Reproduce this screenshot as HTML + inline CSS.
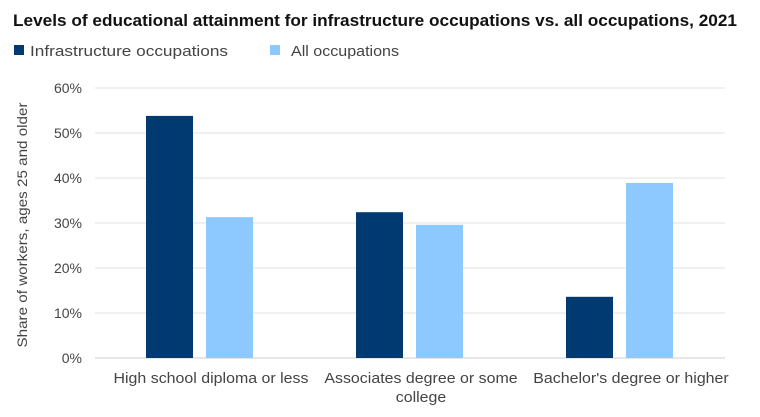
<!DOCTYPE html>
<html><head><meta charset="utf-8"><style>
body{margin:0;background:#fff;font-family:"Liberation Sans",sans-serif;}
svg text{font-family:"Liberation Sans",sans-serif;}
</style></head><body>
<svg id="chart" width="760" height="412">
<text x="13" y="26" font-size="16.5" font-weight="bold" fill="#111" textLength="724" lengthAdjust="spacingAndGlyphs">Levels of educational attainment for infrastructure occupations  vs. all occupations, 2021</text>
<g>
<rect x="14" y="45" width="10" height="10" fill="#003A70"/>
<text x="30" y="56" font-size="15" fill="#444" textLength="198" lengthAdjust="spacingAndGlyphs">Infrastructure occupations</text>
<rect x="270" y="45" width="10" height="10" fill="#8DC8FF"/>
<text x="291" y="56" font-size="15" fill="#444" textLength="108" lengthAdjust="spacingAndGlyphs">All occupations</text>
</g>
<text transform="translate(27,225) rotate(-90)" text-anchor="middle" font-size="14" fill="#444" textLength="245" lengthAdjust="spacingAndGlyphs">Share of workers, ages 25 and older</text>
<g id="grid"></g><g id="bars"></g><g id="labels"></g>
</svg>
<script>
const categories=["High school diploma or less","Associates degree or some|college","Bachelor's degree or higher"];
const infra=[53.8,32.4,13.6];
const allOcc=[31.3,29.6,38.9];
const ticks=[0,10,20,30,40,50,60];
const ns="http://www.w3.org/2000/svg";
const x0=95,x1=725,y0=358,yTop=88,maxV=60;
const y=v=>y0-(v/maxV)*(y0-yTop);
const bw=(x1-x0)/categories.length;
const g=document.getElementById('grid'),b=document.getElementById('bars'),l=document.getElementById('labels');
function mk(tag,attrs,parent){const e=document.createElementNS(ns,tag);for(const k in attrs)e.setAttribute(k,attrs[k]);parent.appendChild(e);return e;}
ticks.forEach(t=>{
 const ln=mk('line',{x1:x0,x2:x1,y1:y(t),y2:y(t),stroke:t===0?'#ccc':'#e0e0e0','stroke-width':1},g);
 
 
 const tx=mk('text',{x:82,y:y(t)+5,'text-anchor':'end','font-size':14,fill:'#444'},g);
 tx.textContent=t+'%';
 
 
});
categories.forEach((c,i)=>{
 const cx=x0+bw*(i+0.5);
 const r1=mk('rect',{x:cx-54,y:y(infra[i]),width:47,height:y0-y(infra[i]),fill:'#003A70'},b);
 
 
 const r2=mk('rect',{x:cx+6,y:y(allOcc[i]),width:47,height:y0-y(allOcc[i]),fill:'#8DC8FF'},b);
 
 
 c.split('|').forEach((line,j)=>{
  const t=mk('text',{x:cx+11,y:383+j*19,'text-anchor':'middle','font-size':14.5,fill:'#444'},l);
  t.textContent=line;
  
  
  const w=t.getComputedTextLength();
  t.setAttribute('textLength',(w*1.1).toFixed(1));
  t.setAttribute('lengthAdjust','spacingAndGlyphs');
 });
});
</script>
</body></html>
